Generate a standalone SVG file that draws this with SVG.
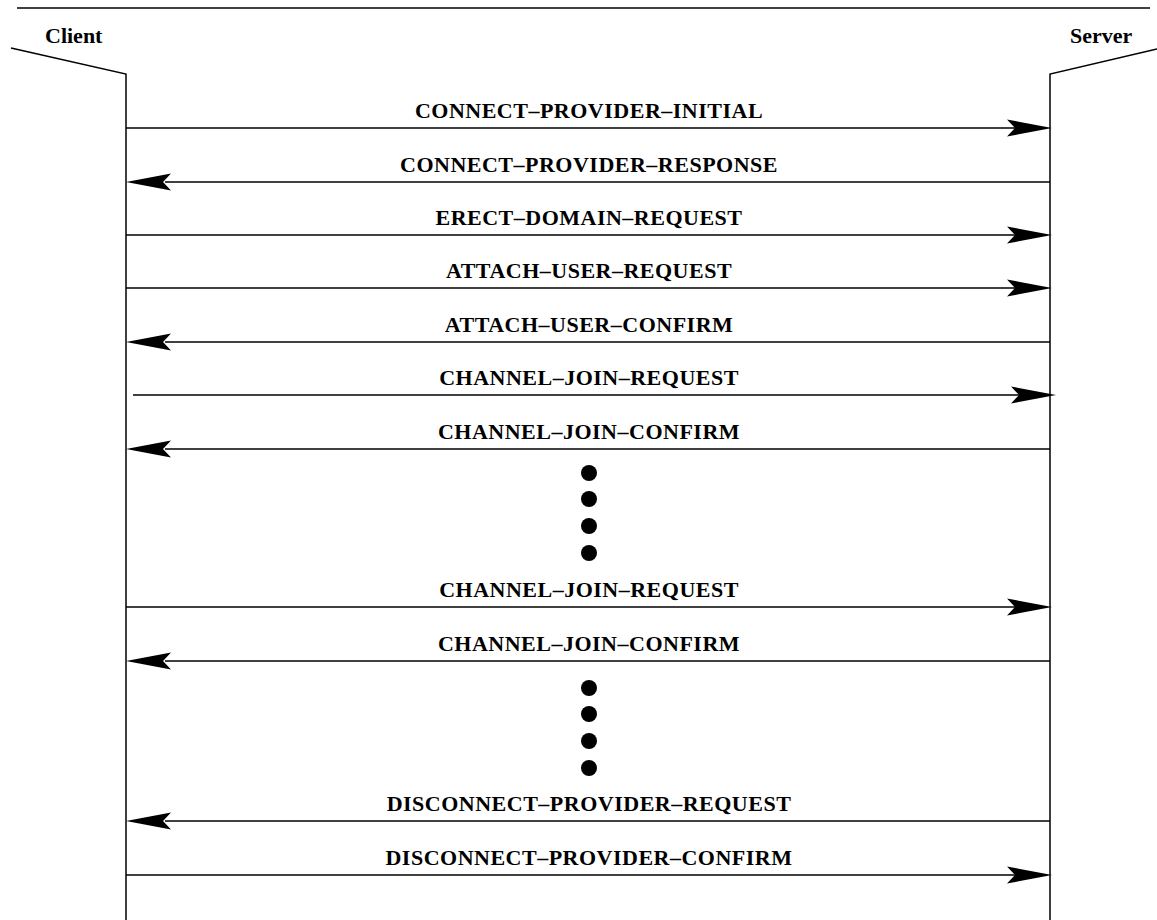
<svg xmlns="http://www.w3.org/2000/svg" width="1157" height="920" viewBox="0 0 1157 920">
  <style>
    .ln { stroke: #000; stroke-width: 1.5; fill: none; }
    .lbl { font-family: "Liberation Serif", "Times New Roman", serif; font-weight: bold; font-size: 22px; letter-spacing: 0.5px; text-anchor: middle; fill: #000; }
    .actor { font-family: "Liberation Serif", "Times New Roman", serif; font-weight: bold; font-size: 22px; fill: #000; }
    .dot { fill: #000; }
  </style>
  <defs>
    <!-- barbed arrowheads drawn as paths so they sit exactly on the lifelines -->
    <path id="headR" d="M0,0 L-45,-8.5 L-37,0 L-45,8.5 Z" fill="#000"/>
    <path id="headL" d="M0,0 L45,-8.5 L37,0 L45,8.5 Z" fill="#000"/>
  </defs>

  <rect width="1157" height="920" fill="#fff"/>

  <!-- frame top rule -->
  <line class="ln" x1="17" y1="8" x2="1150" y2="8"/>

  <g id="client">
    <text class="actor" x="45" y="43">Client</text>
    <polyline class="ln" points="11,48 126,74 126,920"/>
  </g>
  <g id="server">
    <text class="actor" x="1070" y="43">Server</text>
    <polyline class="ln" points="1157,49 1050,74 1050,920"/>
  </g>

  <g id="connectors">
    <!-- client to server -->
    <g id="m1">
      <line class="ln" x1="126" y1="128" x2="1015" y2="128"/>
      <use href="#headR" x="1052" y="128"/>
      <text class="lbl" x="589" y="118">CONNECT–PROVIDER–INITIAL</text>
    </g>
    <g id="m2">
      <line class="ln" x1="165" y1="182" x2="1050" y2="182"/>
      <use href="#headL" x="126" y="182"/>
      <text class="lbl" x="589" y="172">CONNECT–PROVIDER–RESPONSE</text>
    </g>
    <g id="m3">
      <line class="ln" x1="126" y1="235" x2="1015" y2="235"/>
      <use href="#headR" x="1052" y="235"/>
      <text class="lbl" x="589" y="225">ERECT–DOMAIN–REQUEST</text>
    </g>
    <g id="m4">
      <line class="ln" x1="126" y1="288" x2="1015" y2="288"/>
      <use href="#headR" x="1052" y="288"/>
      <text class="lbl" x="589" y="278">ATTACH–USER–REQUEST</text>
    </g>
    <g id="m5">
      <line class="ln" x1="165" y1="342" x2="1050" y2="342"/>
      <use href="#headL" x="126" y="342"/>
      <text class="lbl" x="589" y="332">ATTACH–USER–CONFIRM</text>
    </g>
    <g id="m6">
      <line class="ln" x1="133" y1="395" x2="1020" y2="395"/>
      <use href="#headR" x="1056" y="395"/>
      <text class="lbl" x="589" y="385">CHANNEL–JOIN–REQUEST</text>
    </g>
    <g id="m7">
      <line class="ln" x1="165" y1="449" x2="1050" y2="449"/>
      <use href="#headL" x="126" y="449"/>
      <text class="lbl" x="589" y="439">CHANNEL–JOIN–CONFIRM</text>
    </g>
    <g id="m8">
      <line class="ln" x1="126" y1="607" x2="1015" y2="607"/>
      <use href="#headR" x="1052" y="607"/>
      <text class="lbl" x="589" y="597">CHANNEL–JOIN–REQUEST</text>
    </g>
    <g id="m9">
      <line class="ln" x1="165" y1="661" x2="1050" y2="661"/>
      <use href="#headL" x="126" y="661"/>
      <text class="lbl" x="589" y="651">CHANNEL–JOIN–CONFIRM</text>
    </g>
    <g id="m10">
      <line class="ln" x1="165" y1="821" x2="1050" y2="821"/>
      <use href="#headL" x="126" y="821"/>
      <text class="lbl" x="589" y="811">DISCONNECT–PROVIDER–REQUEST</text>
    </g>
    <g id="m11">
      <line class="ln" x1="126" y1="875" x2="1015" y2="875"/>
      <use href="#headR" x="1052" y="875"/>
      <text class="lbl" x="589" y="865">DISCONNECT–PROVIDER–CONFIRM</text>
    </g>
  </g>

  <!-- ellipsis dots -->
  <g id="gap1">
    <circle class="dot" cx="589" cy="473" r="8"/>
    <circle class="dot" cx="589" cy="499" r="8"/>
    <circle class="dot" cx="589" cy="526" r="8"/>
    <circle class="dot" cx="589" cy="553" r="8"/>
  </g>
  <g id="gap2">
    <circle class="dot" cx="589" cy="688" r="8"/>
    <circle class="dot" cx="589" cy="714" r="8"/>
    <circle class="dot" cx="589" cy="741" r="8"/>
    <circle class="dot" cx="589" cy="768" r="8"/>
  </g>
</svg>
